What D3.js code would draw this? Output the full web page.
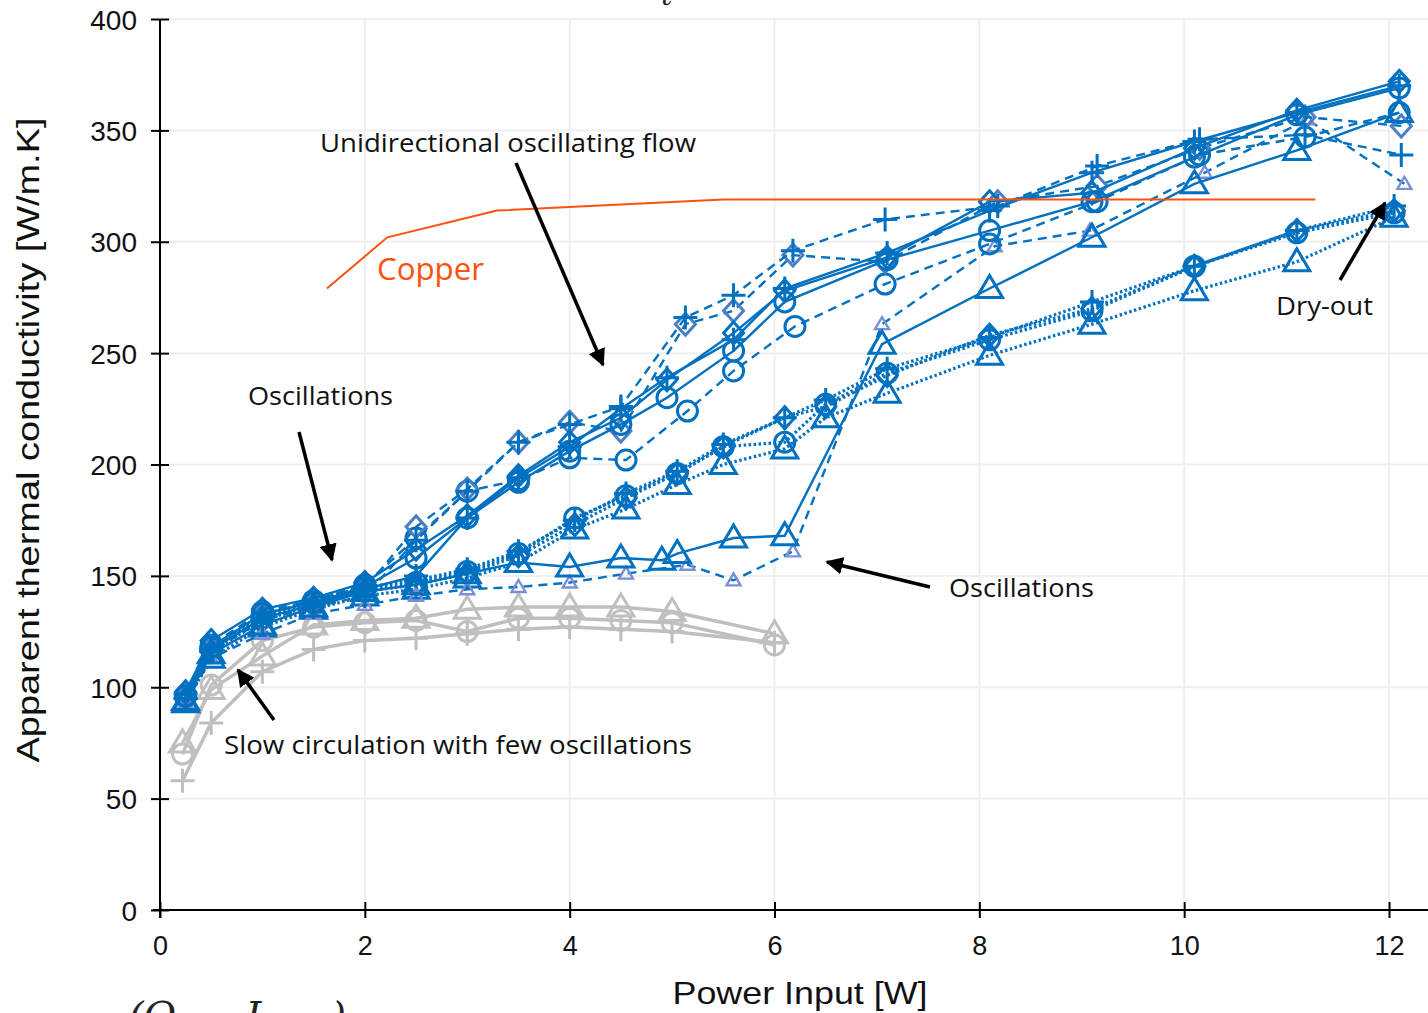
<!DOCTYPE html>
<html>
<head>
<meta charset="utf-8">
<script src="https://cdn.jsdelivr.net/npm/d3@7"></script>
<style>
  html, body { margin: 0; padding: 0; background: #fff; overflow: hidden; }
  svg { display: block; }
  .tick text { font-family: "Liberation Sans", Arial, sans-serif; }
</style>
</head>
<body>
<div id="chart"></div>
<script>
/* Apparent thermal conductivity vs power input */

// tick values
var xTicks = [0, 2, 4, 6, 8, 10, 12];
var yTicks = [0, 50, 100, 150, 200, 250, 300, 350, 400];

// gray runs (slow circulation)
var grayX = [0.22, 0.5, 1, 1.5, 2, 2.5, 3, 3.5, 4, 4.5, 5, 6];
var grayCircle = [70, 101, 121, 127, 129, 130, 125, 131, 131, 130, 129, 119];
var grayTriangle = [75, 99, 114, 128, 130, 131, 135, 136, 136, 136, 134, 124];
var grayPlus = [58, 84, 107, 117, 121, 122, 124, 126, 127, 126, 125, 120];

// solid blue runs
var solidX = [0.25, 0.5, 1, 1.5, 2, 2.5, 3, 3.5, 4, 4.5, 4.95, 5.6, 6.1, 7.1, 8.1, 9.1, 10.1, 11.1, 12.1];
var solidCircle = [96, 118, 133, 138, 145, 158, 176, 192, 206, 218, 230, 251, 273, 292, 305, 318, 338, 357, 369];
var solidDiamond = [98, 121, 135, 140, 147, 162, 177, 195, 210, 221, 238, 259, 278, 293, 318, 322, 342, 359, 372];
var solidPlus = [95, 117, 131, 137, 144, 150, 176, 194, 208, 225, 239, 256, 279, 295, 314, 331, 345, 358, 370];
var solidTriX = [0.25, 0.5, 1, 1.5, 2, 2.5, 3, 3.5, 4, 4.5, 4.9, 5.05, 5.6, 6.1, 7.05, 8.1, 9.1, 10.1, 11.1, 12.1];
var solidTriangle = [94, 115, 128, 136, 143, 146, 151, 156, 154, 158, 157, 160, 167, 168, 254, 279, 302, 326, 341, 358];

// dashed blue runs
var dashX = [0.25, 0.5, 1, 1.5, 2, 2.5, 3, 3.5, 4, 4.5, 5.13, 5.6, 6.18, 7.08, 8.18, 9.15, 10.15, 11.18, 12.12];
var dashPlus = [95, 116, 130, 136, 141, 166, 188, 210, 218, 226, 266, 276, 296, 310, 316, 334, 346, 348, 339];
var dashDiamond = [97, 118, 133, 138, 144, 172, 189, 210, 219, 215, 263, 269, 294, 291, 318, 325, 342, 356, 352];
var dashCircleX = [0.25, 0.5, 1, 1.5, 2, 2.5, 3, 3.5, 4, 4.55, 5.15, 5.6, 6.2, 7.08, 8.1, 9.15, 10.15, 11.18, 12.1];
var dashCircle = [96, 119, 134, 139, 146, 167, 188, 193, 203, 202, 224, 242, 262, 281, 299, 318, 339, 347, 358];
var dashTriX = [0.25, 0.5, 1, 1.5, 2, 2.5, 3, 3.5, 4, 4.55, 5.15, 5.6, 6.18, 7.05, 8.15, 9.08, 10.2, 11.2, 12.15];
var dashTriangle = [93, 113, 124, 133, 137, 141, 144, 145, 147, 151, 155, 148, 161, 263, 298, 305, 331, 355, 326];

// dotted blue runs
var dotX = [0.25, 0.5, 1, 1.5, 2, 2.5, 3, 3.5, 4.05, 4.55, 5.05, 5.5, 6.1, 6.5, 7.1, 8.1, 9.1, 10.1, 11.1, 12.05];
var dotCircle = [96, 117, 131, 138, 144, 147, 152, 160, 176, 186, 196, 208, 210, 227, 241, 256, 269, 289, 304, 313];
var dotPlus = [97, 118, 132, 139, 145, 148, 153, 161, 175, 187, 197, 209, 221, 229, 243, 257, 273, 289, 305, 316];
var dotDiamond = [95, 116, 130, 137, 143, 146, 151, 159, 173, 185, 196, 208, 221, 226, 240, 258, 270, 289, 305, 314];
var dotTriangle = [93, 113, 127, 135, 141, 144, 149, 156, 171, 180, 191, 200, 207, 221, 232, 249, 263, 278, 291, 311];

// copper reference
var copperX = [1.63, 2.22, 3.29, 5.5, 11.28];
var copperY = [279, 302, 314, 319, 319];

var BLUE = '#0070c0', GRAY = '#bfbfbf', LILAC = '#7b8fd6', COPPER = '#ff5010';

var series = [
  { x: grayX, y: grayCircle, color: GRAY, dash: null, marker: 'circle', w: 3.5 },
  { x: grayX, y: grayTriangle, color: GRAY, dash: null, marker: 'triangle', w: 3.5 },
  { x: grayX, y: grayPlus, color: GRAY, dash: null, marker: 'plus', w: 3.5 },
  { x: dotX, y: dotTriangle, color: BLUE, dash: '2.5,2.5', marker: 'triangle', w: 3.2 },
  { x: dotX, y: dotDiamond, color: BLUE, dash: '2.5,2.5', marker: 'diamond', w: 3.2 },
  { x: dotX, y: dotPlus, color: BLUE, dash: '2.5,2.5', marker: 'plus', w: 3.2 },
  { x: dotX, y: dotCircle, color: BLUE, dash: '2.5,2.5', marker: 'circle', w: 3.2 },
  { x: dashTriX, y: dashTriangle, color: BLUE, dash: '9,6', marker: 'smalltri', w: 2.4 },
  { x: dashCircleX, y: dashCircle, color: BLUE, dash: '9,6', marker: 'circle', w: 2.4 },
  { x: dashX, y: dashDiamond, color: BLUE, dash: '9,6', marker: 'diamond', w: 2.4, mcolor: '#4a7fc4' },
  { x: dashX, y: dashPlus, color: BLUE, dash: '9,6', marker: 'plus', w: 2.4 },
  { x: solidTriX, y: solidTriangle, color: BLUE, dash: null, marker: 'triangle', w: 2.4 },
  { x: solidX, y: solidPlus, color: BLUE, dash: null, marker: 'plus', w: 2.4 },
  { x: solidX, y: solidDiamond, color: BLUE, dash: null, marker: 'diamond', w: 2.4 },
  { x: solidX, y: solidCircle, color: BLUE, dash: null, marker: 'circle', w: 2.4 }
];

var markerPath = {
  triangle: 'M0,-13L13,9L-13,9Z',
  plus: 'M-12,0H12M0,-12V12',
  diamond: 'M0,-11L10,0L0,11L-10,0Z',
  smalltri: 'M0,-7L7,5L-7,5Z'
};

function translate(x, y) {
  return 'translate(' + x + ',' + y + ')';
}

var width = 1428, height = 1013;

var x = d3.scaleLinear().domain([0, 12]).range([160, 1389]),
    y = d3.scaleLinear().domain([0, 400]).range([910, 19]);

var svg = d3.select('#chart').append('svg')
  .attr('width', width)
  .attr('height', height);

// grid
svg.append('g').selectAll('line.gy')
  .data(yTicks.slice(1))
  .enter().append('line')
    .attr('x1', 168).attr('x2', width)
    .attr('y1', function(d) { return y(d); })
    .attr('y2', function(d) { return y(d); })
    .attr('stroke', '#efefef').attr('stroke-width', 2);

svg.append('g').selectAll('line.gx')
  .data(xTicks.slice(1))
  .enter().append('line')
    .attr('x1', function(d) { return x(d); })
    .attr('x2', function(d) { return x(d); })
    .attr('y1', 19).attr('y2', 902)
    .attr('stroke', '#efefef').attr('stroke-width', 2);

// data
var line = d3.line()
  .x(function(d) { return x(d[0]); })
  .y(function(d) { return y(d[1]); });

var plot = svg.append('g');

series.forEach(function(s) {
  var pts = s.x.map(function(v, i) { return [v, s.y[i]]; });
  var g = plot.append('g');
  g.append('path')
    .datum(pts)
    .attr('d', line)
    .attr('fill', 'none')
    .attr('stroke', s.color)
    .attr('stroke-width', s.w)
    .attr('stroke-dasharray', s.dash);

  var mc = s.marker === 'smalltri' ? LILAC : (s.mcolor || s.color);
  var marks = g.selectAll('.m')
    .data(pts)
    .enter();
  if (s.marker === 'circle') {
    marks.append('circle')
      .attr('cx', function(d) { return x(d[0]); })
      .attr('cy', function(d) { return y(d[1]); })
      .attr('r', 10)
      .attr('fill', 'none')
      .attr('stroke', mc)
      .attr('stroke-width', 3);
  } else {
    marks.append('path')
      .attr('d', markerPath[s.marker])
      .attr('transform', function(d) { return translate(x(d[0]), y(d[1])); })
      .attr('fill', 'none')
      .attr('stroke', mc)
      .attr('stroke-width', s.marker === 'smalltri' ? 2.4 : 3);
  }
});

// copper
var copper = copperX.map(function(v, i) { return [v, copperY[i]]; });
svg.append('path')
  .datum(copper)
  .attr('d', line)
  .attr('fill', 'none')
  .attr('stroke', COPPER)
  .attr('stroke-width', 2);

// axes
var xAxis = d3.axisBottom(x).tickValues(xTicks).tickSize(8).tickPadding(18),
    yAxis = d3.axisLeft(y).tickValues(yTicks).tickSize(9).tickPadding(14);

var gx = svg.append('g')
  .attr('transform', translate(0, 910))
  .call(xAxis);
gx.select('.domain').remove();
gx.append('line').attr('x1', 153).attr('x2', width).attr('stroke', '#000').attr('stroke-width', 2);
gx.selectAll('.tick line').attr('y1', -8).attr('y2', 8).attr('stroke-width', 2);
gx.selectAll('.tick text').attr('font-size', 27).attr('fill', '#111');

var gy = svg.append('g')
  .attr('transform', translate(160, 0))
  .call(yAxis);
gy.select('.domain').remove();
gy.append('line').attr('y1', 19).attr('y2', 918).attr('stroke', '#000').attr('stroke-width', 2);
gy.selectAll('.tick line').attr('x1', -9).attr('x2', 9).attr('stroke-width', 2);
gy.selectAll('.tick text').attr('font-size', 28).attr('fill', '#111').attr('dy', '0.36em');

// axis titles
svg.append('text')
  .attr('transform', 'translate(39,440) rotate(-90)')
  .attr('text-anchor', 'middle')
  .attr('font-family', '"Liberation Sans", Arial, sans-serif')
  .attr('font-size', 31)
  .attr('textLength', 645)
  .attr('lengthAdjust', 'spacingAndGlyphs')
  .attr('fill', '#111')
  .text('Apparent thermal conductivity  [W/m.K]');

svg.append('text')
  .attr('x', 800).attr('y', 1004)
  .attr('text-anchor', 'middle')
  .attr('font-family', '"Liberation Sans", Arial, sans-serif')
  .attr('font-size', 32)
  .attr('textLength', 255)
  .attr('lengthAdjust', 'spacingAndGlyphs')
  .attr('fill', '#111')
  .text('Power Input [W]');

// annotations
var notes = [
  { t: 'Unidirectional oscillating flow', x: 320, y: 152, len: 376, color: '#111', size: 26 },
  { t: 'Copper', x: 377, y: 280, len: 107, color: COPPER, size: 31 },
  { t: 'Oscillations', x: 248, y: 405, len: 145, color: '#111', size: 26 },
  { t: 'Oscillations', x: 949, y: 597, len: 145, color: '#111', size: 26 },
  { t: 'Slow circulation with few oscillations', x: 224, y: 754, len: 468, color: '#111', size: 26 },
  { t: 'Dry-out', x: 1276, y: 315, len: 97, color: '#111', size: 26 }
];

svg.append('g').selectAll('text')
  .data(notes)
  .enter().append('text')
    .attr('x', function(d) { return d.x; })
    .attr('y', function(d) { return d.y; })
    .attr('font-family', '"Open Sans", sans-serif')
    .attr('font-size', function(d) { return d.size; })
    .attr('textLength', function(d) { return d.len; })
    .attr('lengthAdjust', 'spacingAndGlyphs')
    .attr('fill', function(d) { return d.color; })
    .text(function(d) { return d.t; });

var arrows = [
  [516, 163, 603, 365],
  [299, 432, 332, 560],
  [930, 587, 827, 562],
  [274, 720, 238, 670],
  [1340, 280, 1385, 203]
];

svg.append('defs').append('marker')
  .attr('id', 'head')
  .attr('viewBox', '0 0 10 10')
  .attr('refX', 9).attr('refY', 5)
  .attr('markerWidth', 5).attr('markerHeight', 5)
  .attr('markerUnits', 'strokeWidth')
  .attr('orient', 'auto')
  .append('path')
    .attr('d', 'M0,0L10,5L0,10Z')
    .attr('fill', '#000');

svg.append('g').selectAll('line')
  .data(arrows)
  .enter().append('line')
    .attr('x1', function(d) { return d[0]; })
    .attr('y1', function(d) { return d[1]; })
    .attr('x2', function(d) { return d[2]; })
    .attr('y2', function(d) { return d[3]; })
    .attr('stroke', '#000')
    .attr('stroke-width', 3.5)
    .attr('marker-end', 'url(#head)');

// cropped page fragments above and below
svg.append('text')
  .attr('x', 660).attr('y', 5)
  .attr('font-family', '"DejaVu Serif", serif')
  .attr('font-style', 'italic')
  .attr('font-size', 30)
  .attr('fill', '#222')
  .text('\u2113');

svg.append('text')
  .attr('x', 128).attr('y', 1030)
  .attr('font-family', '"DejaVu Serif", serif')
  .attr('font-style', 'italic')
  .attr('font-size', 40)
  .attr('fill', '#222')
  .attr('textLength', 218)
  .attr('xml:space', 'preserve')
  .text('(Q      L     )');
</script>
</body>
</html>
